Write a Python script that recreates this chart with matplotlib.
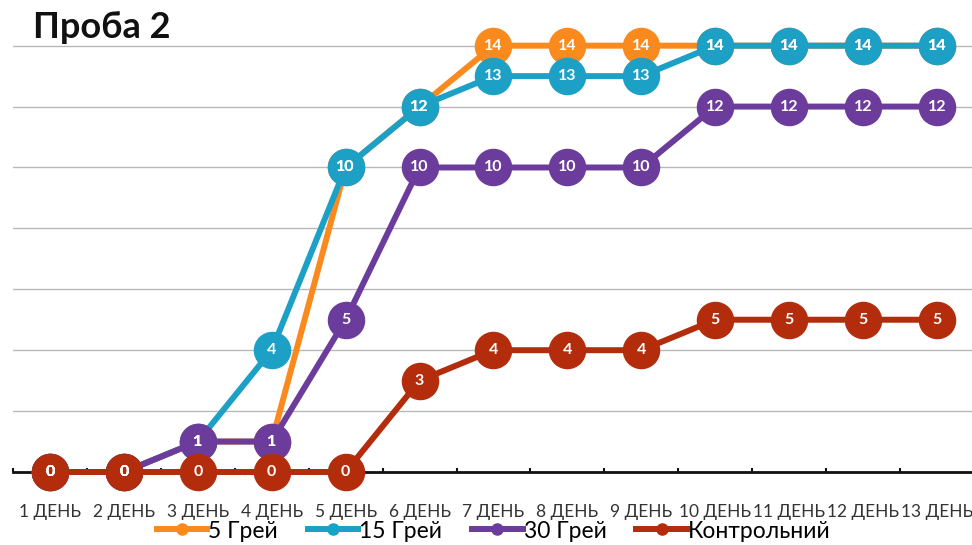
import matplotlib
matplotlib.use("Agg")
import matplotlib.pyplot as plt
from matplotlib.lines import Line2D

plt.rcParams['font.family'] = ['Lato', 'DejaVu Sans']

days = ["1 ДЕНЬ", "2 ДЕНЬ", "3 ДЕНЬ", "4 ДЕНЬ", "5 ДЕНЬ", "6 ДЕНЬ", "7 ДЕНЬ",
        "8 ДЕНЬ", "9 ДЕНЬ", "10 ДЕНЬ", "11 ДЕНЬ", "12 ДЕНЬ", "13 ДЕНЬ"]
grey5 = [0, 0, 1, 1, 10, 12, 14, 14, 14, 14, 14, 14, 14]
grey15 = [0, 0, 1, 4, 10, 12, 13, 13, 13, 14, 14, 14, 14]
grey30 = [0, 0, 1, 1, 5, 10, 10, 10, 10, 12, 12, 12, 12]
control = [0, 0, 0, 0, 0, 3, 4, 4, 4, 5, 5, 5, 5]

series = [("5 Грей", grey5, '#FA8A1E'),
          ("15 Грей", grey15, '#1CA0C6'),
          ("30 Грей", grey30, '#6B3C9B'),
          ("Контрольний", control, '#B32C0C')]

fig = plt.figure(figsize=(9.72, 5.45), dpi=100)
ax = fig.add_axes([13/972, 73/545, 1 - 13/972 + 0.002, 472/545])
x = list(range(len(days)))

for name, vals, col in series:
    ax.plot(x, vals, color=col, lw=4.3, marker='o', ms=26, mec=col, mfc=col,
            clip_on=False, zorder=3, solid_capstyle='butt')
    for xi, v in zip(x, vals):
        ax.text(xi, v, str(v), color='white', fontsize=11.5, fontweight='bold',
                ha='center', va='center', zorder=4, clip_on=False)

ax.set_xlim(-0.5, 12.5)
ax.set_ylim(0, 15.5)
ax.set_yticks(range(0, 16, 2))
ax.yaxis.grid(True, color='#b8b8b8', lw=1.0)
ax.set_axisbelow(True)
ax.tick_params(axis='y', left=False, labelleft=False)
for s in ['top', 'right', 'left']:
    ax.spines[s].set_visible(False)
ax.spines['bottom'].set_linewidth(2)
ax.spines['bottom'].set_color('#111111')
ax.set_xticks(x)
ax.set_xticklabels(days, fontsize=12.5, color='#333333')
ax.tick_params(axis='x', length=0, pad=23)
ax.set_xticks([i + 0.5 for i in range(-1, 13)], minor=True)
ax.tick_params(axis='x', which='minor', direction='in', length=3, width=1.5, color='#111111')

handles = [Line2D([0], [0], color=c, lw=4.3, marker='o', ms=8, mfc=c, mec=c)
           for _, _, c in series]
fig.legend(handles, [n for n, _, _ in series], loc='center',
           bbox_to_anchor=(0.508, 1 - 531/545), ncol=4, frameon=False,
           fontsize=16.5, handlelength=2.2, handletextpad=0.05, columnspacing=1.3)

fig.text(33/972, 1 - 27/545, "Проба 2", fontsize=26, fontweight='bold',
         ha='left', va='center', color='#111111')

fig.savefig("out.png", dpi=100)
